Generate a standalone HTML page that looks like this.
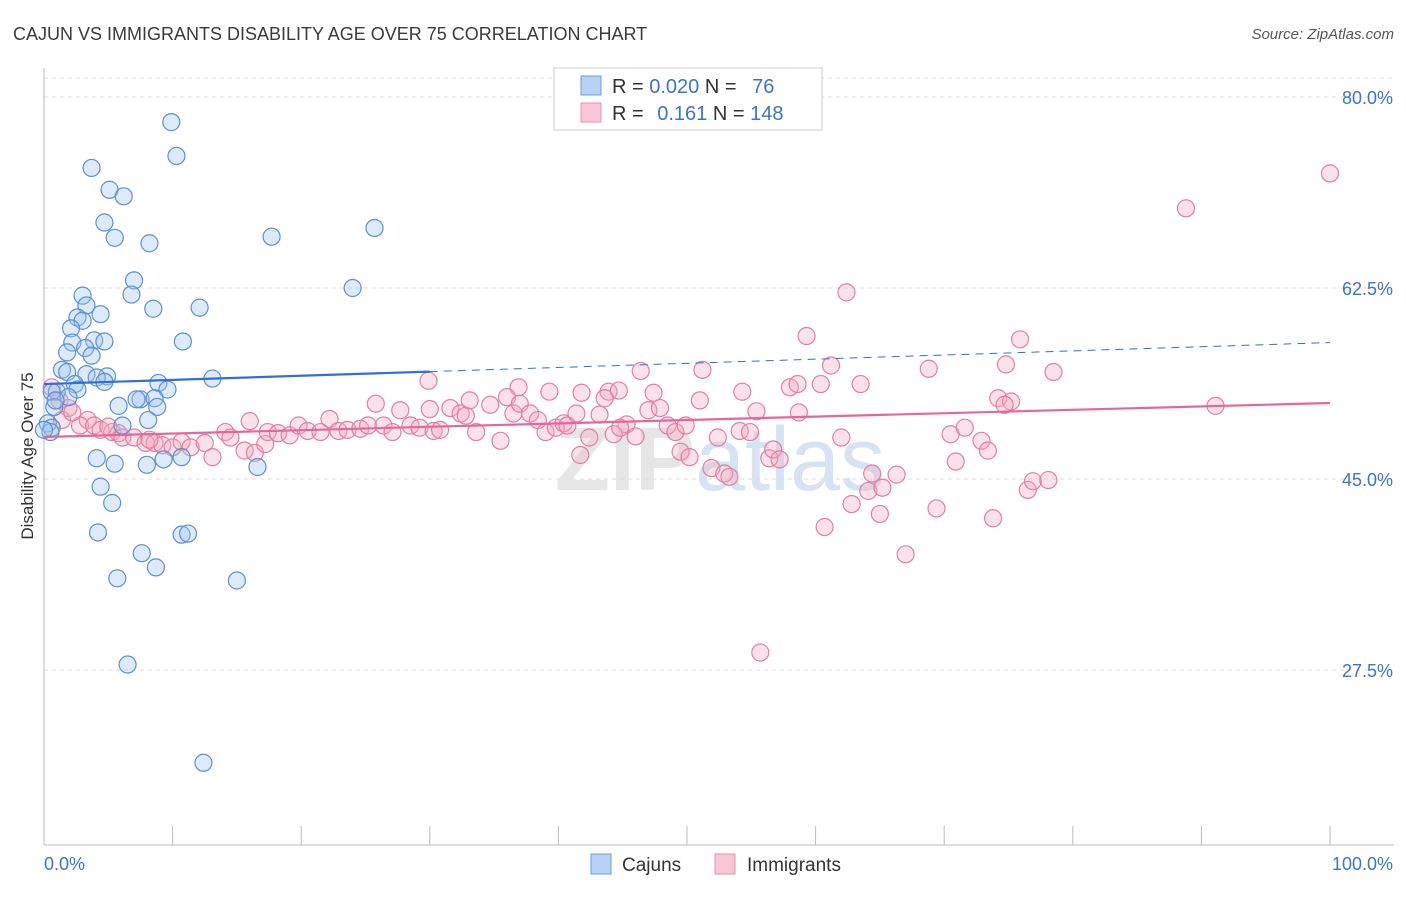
<!DOCTYPE html>
<html><head><meta charset="utf-8"><style>
body{margin:0;background:#fff;font-family:"Liberation Sans",sans-serif}
svg text{font-family:"Liberation Sans",sans-serif}
</style></head><body>
<svg id="c" width="1406" height="892">
<text x="13" y="40" font-size="18" fill="#3a3a3a">CAJUN VS IMMIGRANTS DISABILITY AGE OVER 75 CORRELATION CHART</text>
<text x="1394" y="39" font-size="15" fill="#555" font-style="italic" text-anchor="end">Source: ZipAtlas.com</text>
<text x="720" y="490" font-size="90" fill="#e6e6e6" text-anchor="middle" font-weight="bold">ZIP<tspan fill="#d5e3f3" font-weight="normal">atlas</tspan></text>
<g id="grid"></g><g id="axes"></g><g id="pts"></g><g id="trend"></g>
<text transform="translate(33,456) rotate(-90)" font-size="17" fill="#333" text-anchor="middle">Disability Age Over 75</text>
<g>
<rect x="554" y="68" width="268" height="62" fill="#fff" stroke="#ccc"/>
<rect x="581" y="76" width="20" height="19" fill="#b7d2f4" stroke="#6a9be0"/>
<rect x="581" y="103" width="20" height="19" fill="#f8c6d4" stroke="#e890ac"/>
<text x="612" y="93" font-size="20" fill="#333">R = <tspan fill="#3b73d1">0.020</tspan>   N = <tspan fill="#3b73d1" dx="10">76</tspan></text>
<text x="612" y="120" font-size="20" fill="#333">R =   <tspan fill="#3b73d1" dx="8">0.161</tspan>   N = <tspan fill="#3b73d1">148</tspan></text>
</g>
<g>
<rect x="591" y="854" width="20" height="20" fill="#b7d2f4" stroke="#6a9be0"/>
<text x="622" y="871" font-size="19" fill="#333">Cajuns</text>
<rect x="715" y="854" width="20" height="20" fill="#f8c6d4" stroke="#e890ac"/>
<text x="747" y="871" font-size="19" fill="#333">Immigrants</text>
</g>
</svg>
<script>
const yTicks=[80,62.5,45,27.5];
const yTickLabels=["80.0%","62.5%","45.0%","27.5%"];
const xTickLabels=["0.0%","100.0%"];
const cajunX=[9.9,10.3,3.7,5.1,6.2,4.7,5.5,8.2,17.7,25.7,7.0,6.8,24.0,3.0,3.3,8.5,12.1,2.6,4.4,3.0,2.1,2.2,3.9,4.7,10.8,3.2,1.8,3.7,1.4,3.3,1.8,4.9,4.1,2.4,4.7,8.9,2.6,9.6,13.1,1.0,0.6,1.9,7.5,7.2,8.6,0.8,5.8,8.8,8.1,6.1,0.3,0.6,4.1,5.5,8.0,9.3,10.7,16.6,4.4,5.3,4.2,10.7,11.2,7.6,5.7,8.7,15.0,6.5,12.4,0.5,0.0,0.9];
const cajunY=[77.7,74.6,73.5,71.5,70.9,68.5,67.1,66.6,67.2,68.0,63.2,61.9,62.5,61.8,60.9,60.6,60.7,59.8,60.1,59.5,58.8,57.5,57.7,57.6,57.6,57.0,56.6,56.3,55.0,54.6,54.8,54.4,54.3,53.7,53.9,53.8,53.2,53.2,54.2,53.0,53.0,52.5,52.3,52.3,52.4,51.6,51.7,51.6,50.4,49.9,50.1,49.7,46.9,46.4,46.3,46.8,47.0,46.1,44.3,42.8,40.1,39.9,40.0,38.2,35.9,36.9,35.7,28.0,19.0,49.3,49.5,52.2];
const immX=[100,88.8,62.4,59.3,75.9,61.2,68.8,74.8,78.5,46.4,51.2,29.9,36.9,39.3,41.8,43.9,44.7,47.4,54.3,58.0,58.6,60.4,63.5,74.2,75.2,91.1,0.6,1.2,1.9,1.4,3.4,2.8,3.9,4.4,5.3,5.8,6.1,7.0,7.9,8.6,9.2,10.0,10.7,11.4,12.5,13.1,14.1,14.5,15.6,16.4,17.2,17.4,18.2,19.1,19.8,20.5,21.5,22.2,22.9,23.6,24.6,25.2,25.8,26.4,27.1,27.7,28.5,29.2,30.3,30.8,31.6,32.4,32.8,33.6,34.7,35.5,36.0,36.5,37.0,37.8,38.4,39.0,39.8,40.4,40.7,41.4,42.4,43.2,43.6,44.3,45.3,46.0,47.0,47.9,48.5,49.1,49.9,51.0,49.5,50.2,51.9,52.4,52.9,53.3,54.1,54.9,55.4,56.4,56.7,57.2,58.7,55.7,60.7,62.0,62.8,64.1,65.2,65.0,64.4,66.3,67.0,69.4,70.5,70.9,71.6,72.9,73.4,73.8,74.7,76.5,76.9,78.1,30.0,41.7,44.8,33.1,16.0,8.2,5.0,2.2];
const immY=[73.0,69.8,62.1,58.1,57.8,55.4,55.1,55.5,54.8,54.9,55.0,54.0,53.4,53.0,52.9,53.0,53.1,52.9,53.0,53.4,53.7,53.7,53.7,52.4,52.1,51.7,53.4,52.2,51.5,50.4,50.4,49.9,49.9,49.5,49.3,49.2,48.8,48.8,48.3,48.3,48.1,47.9,48.4,47.9,48.3,47.0,49.3,48.8,47.6,47.4,48.2,49.3,49.2,49.0,49.9,49.4,49.3,50.5,49.4,49.5,49.6,49.9,51.9,49.9,49.3,51.3,49.9,49.7,49.4,49.5,51.5,51.0,50.8,49.3,51.8,48.5,52.5,51.0,51.9,51.0,50.4,49.3,49.7,50.1,49.9,51.0,48.8,50.9,52.4,49.1,50.0,48.9,51.3,51.5,49.9,49.3,49.9,52.2,47.5,47.0,46.0,48.8,45.5,45.2,49.4,49.3,51.2,46.9,47.7,46.8,51.1,29.1,40.6,48.8,42.7,43.9,44.2,41.8,45.5,45.4,38.1,42.3,49.1,46.6,49.7,48.5,47.6,41.4,51.8,44.0,44.8,44.9,51.4,47.2,49.7,52.2,50.3,48.6,49.8,51.1];
const cajunTrend=[53.7,57.5];
const immTrend=[48.85,51.96];
const NS="http://www.w3.org/2000/svg";
const X=v=>44+v*12.86, Y=v=>97+(80-v)*10.914;
function mk(t,a,p){const e=document.createElementNS(NS,t);for(const k in a)e.setAttribute(k,a[k]);p.appendChild(e);return e;}
const g=document.getElementById('grid'),ax=document.getElementById('axes'),pts=document.getElementById('pts'),tr=document.getElementById('trend');
mk('line',{x1:44,x2:1394,y1:78,y2:78,stroke:'#ddd','stroke-dasharray':'4,4'},g);
yTicks.forEach((t,i)=>{const l=mk('line',{x1:44,x2:1394,y1:Y(t),y2:Y(t),stroke:'#ddd','stroke-dasharray':'4,4'},g);


const tx=mk('text',{x:1393,y:Y(t)+7,'font-size':18,fill:'#3b73d1','text-anchor':'end'},g);tx.textContent=yTickLabels[i];

});
mk('line',{x1:44,x2:44,y1:68,y2:845,stroke:'#bbb'},ax);
mk('line',{x1:44,x2:1394,y1:845,y2:845,stroke:'#bbb'},ax);
for(let i=0;i<=10;i++){mk('line',{x1:X(i*10),x2:X(i*10),y1:826,y2:845,stroke:'#bbb'},ax);}
[[0,'start',X(0)],[1,'end',1393]].forEach(([i,a,x])=>{const t=mk('text',{x:x,y:870,'font-size':18,fill:'#3b73d1','text-anchor':a},ax);t.textContent=xTickLabels[i];

});
function drawPts(xs,ys,fill,stroke,name){xs.forEach((x,i)=>{const c=mk('circle',{cx:X(x),cy:Y(ys[i]),r:8.5,fill:fill,'fill-opacity':0.35,stroke:stroke,'stroke-width':1.2},pts);

});}
drawPts(immX,immY,'#f4a9c0','#e27fa0','immigrants-point');
drawPts(cajunX,cajunY,'#9fc2ef','#5b8fd6','cajuns-point');
const cy=v=>cajunTrend[0]+(cajunTrend[1]-cajunTrend[0])*v/100;
const l1=mk('line',{x1:X(0),y1:Y(cy(0)),x2:X(30),y2:Y(cy(30)),stroke:'#2f6fd6','stroke-width':2.2},tr);


const l2=mk('line',{x1:X(30),y1:Y(cy(30)),x2:X(100),y2:Y(cy(100)),stroke:'#2f6fd6','stroke-width':1,'stroke-dasharray':'8,6'},tr);


const l3=mk('line',{x1:X(0),y1:Y(immTrend[0]),x2:X(100),y2:Y(immTrend[1]),stroke:'#e4679a','stroke-width':2.2},tr);


</script>
</body></html>
